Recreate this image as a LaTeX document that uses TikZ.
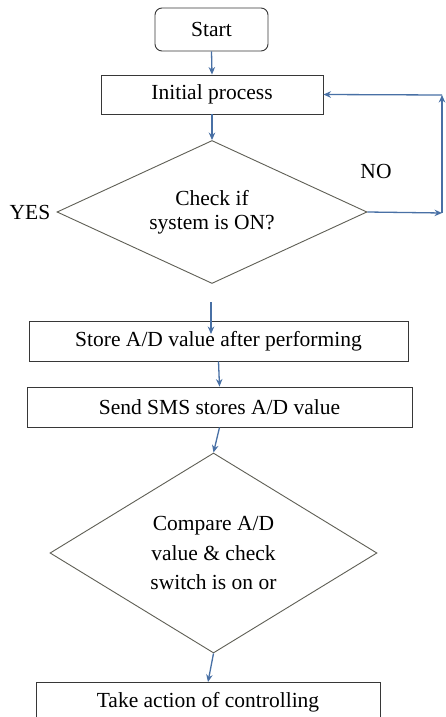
\documentclass[tikz,border=0pt]{standalone}
\usepackage{fontspec}
\setmainfont{Liberation Serif}
\usetikzlibrary{shapes.geometric,arrows.meta}
\definecolor{arr}{RGB}{72,112,165}
\definecolor{boxc}{RGB}{55,55,55}
\definecolor{dia}{RGB}{95,95,85}
\begin{document}
\begin{tikzpicture}[x=1pt,y=-1pt,
  txt/.style={font=\fontsize{21.5}{24}\selectfont},
  procbox/.style={draw=boxc,line width=0.9pt,inner sep=0pt,txt},
  decision/.style={draw=dia,line width=0.9pt,shape=diamond,inner sep=0pt,align=center},
  flow/.style={draw=arr,line width=1.3pt,-{Stealth[length=7.5pt,width=6.5pt]}}]
\useasboundingbox (0,0) rectangle (445,717);
\fill[white] (0,0) rectangle (445,717);
\node[procbox,rounded corners=7pt,minimum width=113pt,minimum height=43pt] (start) at (211.5,29.5) {Start};
\node[procbox,minimum width=222pt,minimum height=39pt] (init) at (212,94.5) {Initial process};
\node[decision,aspect=2.17,minimum width=310pt,minimum height=143pt,font=\fontsize{21.5}{24}\selectfont] (check) at (212,212) {Check if\\system is ON?};
\node[txt] (yes) at (30,212) {YES};
\node[txt] (no) at (376,171) {NO};
\coordinate (c1) at (442,213);
\coordinate (c2) at (442,95);
\coordinate (s0) at (211,302);
\coordinate (s1) at (211,334);
\node[procbox,minimum width=379pt,minimum height=40pt] (store) at (218.5,341) {Store A/D value after performing};
\node[procbox,minimum width=385pt,minimum height=40pt] (send) at (219.5,407) {Send SMS stores A/D value};
\node[decision,aspect=1.635,minimum width=327pt,minimum height=200pt,font=\fontsize{21.5}{29.5}\selectfont] (compare) at (213.5,553) {Compare A/D\\value \& check\\switch is on or};
\node[procbox,minimum width=344pt,minimum height=44pt,anchor=north] (take) at (208,682) {};
\node[txt] (taketxt) at (208,702) {Take action of controlling};
\draw[flow] (start.south) -- (init.north);
\draw[flow] (init.south) -- (check.north);
\draw[flow] (check.east) -- (c1);
\draw[flow] (c1) -- (c2);
\draw[flow] (c2) -- (init.east);
\draw[flow] (s0) -- (s1);
\draw[flow] (store.south) -- (send.north);
\draw[flow] (send.south) -- (compare.north);
\draw[flow] (compare.south) -- (take.north);
\end{tikzpicture}
\end{document}
